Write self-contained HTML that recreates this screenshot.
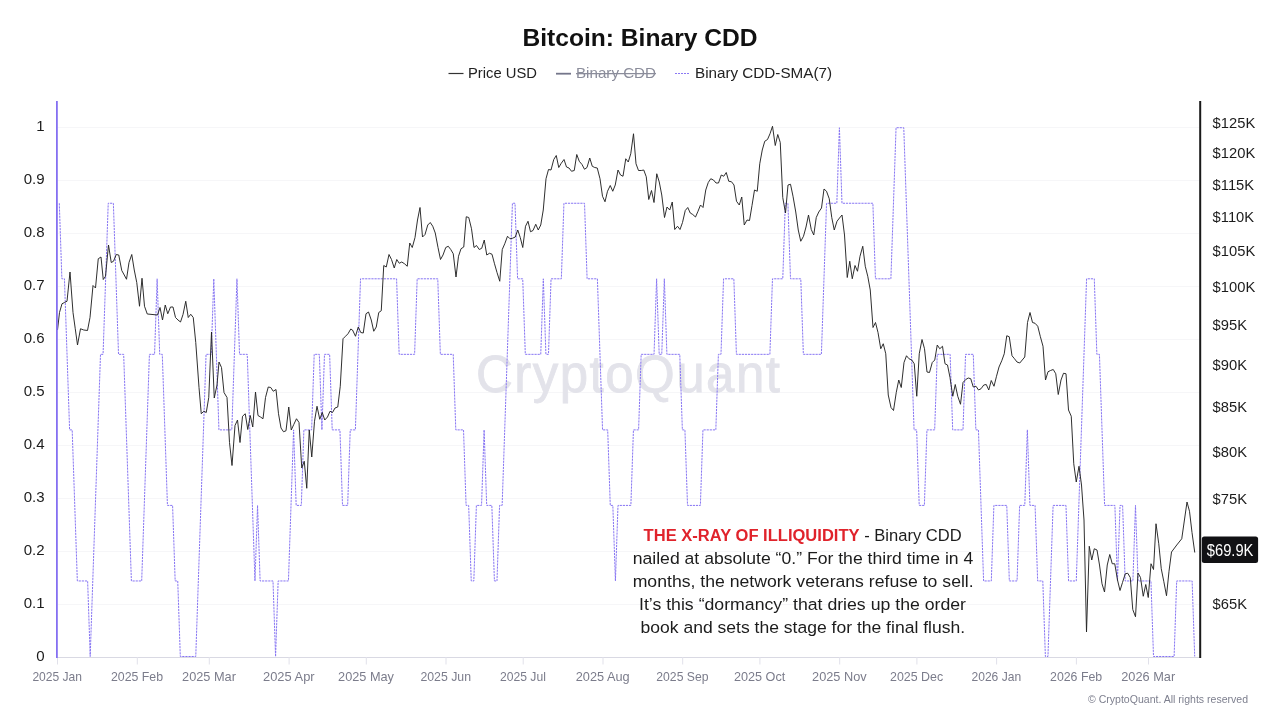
<!DOCTYPE html>
<html><head><meta charset="utf-8"><title>Bitcoin: Binary CDD</title>
<style>
html,body{margin:0;padding:0;background:#fff;}
body{width:1280px;height:720px;overflow:hidden;font-family:"Liberation Sans",sans-serif;}
svg{display:block;will-change:transform;font-family:"Liberation Sans",sans-serif;}
</style></head><body>
<svg width="1280" height="720" viewBox="0 0 1280 720">
<rect width="1280" height="720" fill="#fff"/>
<text x="640" y="46.2" text-anchor="middle" font-size="23" font-weight="bold" fill="#111" textLength="235" lengthAdjust="spacingAndGlyphs">Bitcoin: Binary CDD</text>
<g font-size="14.5" fill="#222">
<line x1="448.5" x2="463.5" y1="73.5" y2="73.5" stroke="#333" stroke-width="1.2"/>
<text x="468" y="78" textLength="69" lengthAdjust="spacingAndGlyphs">Price USD</text>
<line x1="556" x2="571" y1="73.7" y2="73.7" stroke="#74768a" stroke-width="1.8"/>
<text x="576" y="78" fill="#8b8d9b" textLength="80" lengthAdjust="spacingAndGlyphs">Binary CDD</text>
<line x1="576" x2="656" y1="73.7" y2="73.7" stroke="#8b8d9b" stroke-width="1.2"/>
<line x1="675" x2="690" y1="73.5" y2="73.5" stroke="#8b79f4" stroke-width="1" stroke-dasharray="2 1"/>
<text x="695" y="78" textLength="137" lengthAdjust="spacingAndGlyphs">Binary CDD-SMA(7)</text>
</g>
<g stroke="#f6f6f8" stroke-width="1"><line x1="58" x2="1199" y1="604.5" y2="604.5"/><line x1="58" x2="1199" y1="551.5" y2="551.5"/><line x1="58" x2="1199" y1="498.5" y2="498.5"/><line x1="58" x2="1199" y1="445.5" y2="445.5"/><line x1="58" x2="1199" y1="392.5" y2="392.5"/><line x1="58" x2="1199" y1="339.5" y2="339.5"/><line x1="58" x2="1199" y1="286.5" y2="286.5"/><line x1="58" x2="1199" y1="233.5" y2="233.5"/><line x1="58" x2="1199" y1="180.5" y2="180.5"/><line x1="58" x2="1199" y1="127.5" y2="127.5"/></g>
<text x="627.9" y="392.3" text-anchor="middle" font-size="51" fill="#e3e3ea" stroke="#e3e3ea" stroke-width="0.8" textLength="304" lengthAdjust="spacing">CryptoQuant</text>
<line x1="56" x2="1200" y1="657.5" y2="657.5" stroke="#d9d9e3" stroke-width="1"/>
<g stroke="#e1e1ea" stroke-width="1"><line x1="57.5" x2="57.5" y1="657" y2="664.5"/><line x1="137.3" x2="137.3" y1="657" y2="664.5"/><line x1="209.3" x2="209.3" y1="657" y2="664.5"/><line x1="289.1" x2="289.1" y1="657" y2="664.5"/><line x1="366.3" x2="366.3" y1="657" y2="664.5"/><line x1="446.0" x2="446.0" y1="657" y2="664.5"/><line x1="523.2" x2="523.2" y1="657" y2="664.5"/><line x1="603.0" x2="603.0" y1="657" y2="664.5"/><line x1="682.7" x2="682.7" y1="657" y2="664.5"/><line x1="759.9" x2="759.9" y1="657" y2="664.5"/><line x1="839.7" x2="839.7" y1="657" y2="664.5"/><line x1="916.9" x2="916.9" y1="657" y2="664.5"/><line x1="996.6" x2="996.6" y1="657" y2="664.5"/><line x1="1076.4" x2="1076.4" y1="657" y2="664.5"/><line x1="1148.5" x2="1148.5" y1="657" y2="664.5"/></g>
<polyline points="59.30,203.26 61.88,278.80 64.45,278.80 69.60,429.88 72.18,429.88 77.33,580.96 87.63,580.96 90.20,656.50 100.50,354.34 103.07,354.34 108.22,203.26 113.37,203.26 118.52,354.34 123.67,354.34 131.39,580.96 141.69,580.96 149.42,354.34 154.56,354.34 157.14,278.80 159.71,354.34 162.29,354.34 167.44,505.42 172.59,505.42 175.16,580.96 177.74,580.96 180.31,656.50 195.76,656.50 206.06,354.34 211.21,354.34 213.78,278.80 218.93,429.88 231.80,429.88 236.95,278.80 239.53,354.34 247.25,354.34 254.97,580.96 257.55,505.42 260.12,580.96 273.00,580.96 275.57,656.50 278.15,580.96 288.44,580.96 293.59,429.88 296.17,505.42 301.32,505.42 303.89,429.88 311.62,429.88 314.19,354.34 319.34,354.34 321.91,429.88 324.49,354.34 329.64,354.34 332.21,429.88 339.94,429.88 342.51,505.42 347.66,505.42 350.23,429.88 355.38,429.88 360.53,278.80 396.58,278.80 399.15,354.34 414.60,354.34 417.17,278.80 437.77,278.80 440.35,354.34 453.22,354.34 455.79,429.88 463.52,429.88 466.09,505.42 468.67,505.42 471.24,580.96 473.82,580.96 476.39,505.42 481.54,505.42 484.11,429.88 486.69,505.42 491.84,505.42 494.41,580.96 496.99,580.96 499.56,505.42 502.14,505.42 512.43,203.26 515.01,203.26 517.58,278.80 522.73,278.80 525.31,354.34 540.75,354.34 543.33,278.80 545.90,354.34 548.48,354.34 551.05,278.80 561.35,278.80 563.93,203.26 584.52,203.26 587.10,278.80 597.40,278.80 602.55,429.88 607.69,429.88 610.27,505.42 612.84,505.42 615.42,580.96 617.99,505.42 630.87,505.42 633.44,429.88 638.59,429.88 641.16,354.34 654.04,354.34 656.61,278.80 659.19,354.34 661.76,354.34 664.34,278.80 666.91,354.34 679.78,354.34 682.36,429.88 684.93,429.88 687.51,505.42 700.38,505.42 702.95,429.88 715.83,429.88 718.40,354.34 720.98,354.34 723.55,278.80 733.85,278.80 736.42,354.34 769.89,354.34 772.47,278.80 782.77,278.80 785.34,203.26 787.92,203.26 790.49,278.80 800.79,278.80 803.36,354.34 821.39,354.34 826.54,203.26 836.83,203.26 839.41,127.72 841.98,203.26 872.88,203.26 875.45,278.80 890.90,278.80 896.05,127.72 903.77,127.72 914.07,429.88 916.65,429.88 919.22,505.42 924.37,505.42 926.94,429.88 934.67,429.88 937.24,354.34 950.12,354.34 952.69,429.88 962.99,429.88 965.56,354.34 973.29,354.34 975.86,429.88 978.44,429.88 983.59,580.96 991.31,580.96 993.88,505.42 1006.76,505.42 1009.33,580.96 1017.06,580.96 1019.63,505.42 1024.78,505.42 1027.35,429.88 1029.93,505.42 1035.08,505.42 1037.65,580.96 1042.80,580.96 1045.38,656.50 1047.95,656.50 1053.10,505.42 1065.97,505.42 1068.55,580.96 1076.27,580.96 1086.57,278.80 1094.29,278.80 1096.87,354.34 1099.44,354.34 1104.59,505.42 1114.89,505.42 1117.47,580.96 1120.04,505.42 1122.61,505.42 1125.19,580.96 1132.91,580.96 1135.49,505.42 1138.06,580.96 1150.94,580.96 1153.51,656.50 1174.11,656.50 1176.68,580.96 1192.13,580.96 1194.70,656.50" fill="none" stroke="#8775f3" stroke-width="1" stroke-dasharray="2.2 0.9" stroke-linejoin="round"/>
<polyline points="57.50,330.00 59.50,312.50 62.00,303.75 64.50,302.50 67.00,301.25 70.00,272.00 73.00,312.50 75.25,328.75 77.50,345.00 80.50,328.75 83.75,330.00 87.50,330.50 90.00,317.50 93.00,285.50 95.50,288.00 98.25,258.75 101.00,257.00 103.25,279.50 105.50,276.25 108.50,245.00 111.25,262.50 113.50,261.25 116.25,254.50 118.75,255.00 121.75,270.50 124.25,275.00 126.50,279.25 129.00,262.50 131.75,254.50 134.25,270.00 136.75,282.50 139.50,306.25 142.00,278.25 144.50,306.25 147.25,314.00 150.00,314.25 157.50,315.00 160.00,307.50 162.50,320.00 165.25,305.00 167.75,313.75 170.50,307.00 173.00,307.00 175.50,317.50 178.00,320.00 180.50,322.00 183.00,314.50 185.75,301.25 188.25,317.50 190.75,314.25 193.25,317.50 195.75,342.50 199.00,387.50 201.25,413.75 203.75,411.25 206.25,412.50 208.75,397.50 211.50,332.00 214.25,398.00 217.00,385.00 219.00,362.00 221.50,367.50 224.00,392.50 227.00,397.50 229.50,442.50 232.00,465.50 235.00,425.50 237.50,420.00 240.00,442.50 242.50,416.25 245.25,413.75 247.75,429.50 250.25,415.50 252.75,427.00 255.50,392.00 258.00,415.50 260.50,417.00 263.00,418.75 265.50,397.50 268.25,387.00 270.75,387.50 273.25,391.25 276.00,389.50 278.50,413.75 281.00,428.00 283.50,431.75 286.00,430.75 288.75,407.00 291.25,430.00 293.75,424.50 296.50,418.75 299.00,422.50 301.75,468.00 304.25,461.25 306.75,488.25 309.25,430.00 311.75,457.00 314.50,421.25 317.00,406.25 319.75,419.25 322.25,412.50 324.75,420.00 327.50,417.00 330.00,411.25 332.50,412.50 335.00,408.00 337.75,407.00 340.25,386.25 343.00,338.75 345.50,336.25 348.00,333.75 350.75,329.00 352.50,330.00 355.50,336.25 358.25,327.00 360.75,332.50 363.25,333.00 366.00,313.75 368.50,312.00 371.25,320.00 373.75,331.25 376.25,327.00 378.75,312.50 381.25,310.75 383.75,265.50 386.25,267.00 389.00,254.50 391.50,259.50 394.25,268.00 396.75,259.50 399.25,263.25 401.75,262.00 404.50,263.75 407.25,266.25 409.75,243.00 412.25,247.50 415.00,237.50 417.50,220.00 420.00,207.50 422.50,237.00 425.00,234.50 427.75,225.00 430.25,222.50 432.75,226.25 435.25,233.00 438.00,247.50 440.50,259.50 443.00,255.00 445.75,247.50 448.25,246.25 450.75,249.50 453.25,253.75 456.00,277.00 458.50,256.25 461.00,248.75 463.75,247.00 466.25,216.75 468.75,217.50 471.50,228.75 474.00,247.50 476.50,245.50 479.25,249.50 481.75,248.25 484.25,240.00 486.75,255.00 489.50,253.25 492.00,254.25 494.50,263.75 497.00,272.50 499.75,281.25 502.25,249.50 504.75,243.75 507.50,236.25 510.00,238.75 512.50,238.25 515.25,237.00 517.75,230.00 520.25,237.50 522.75,247.50 525.50,226.25 528.00,221.25 530.50,231.75 533.00,230.50 535.75,224.25 538.25,230.00 540.75,225.00 543.25,210.00 546.00,178.75 548.50,169.50 551.00,170.00 553.75,159.50 556.25,155.50 558.75,167.50 561.25,163.25 564.00,159.50 566.50,167.00 569.00,168.00 571.50,171.25 574.25,170.50 576.75,154.50 579.25,161.25 582.00,164.50 584.50,169.25 587.00,167.50 589.75,158.00 592.25,166.25 594.75,167.50 597.25,168.00 600.00,178.75 602.50,196.25 605.00,201.75 607.50,191.25 610.25,185.50 612.75,191.25 615.25,185.00 618.00,170.00 620.50,175.00 623.00,176.25 625.75,158.75 628.25,162.00 630.75,153.75 633.50,133.75 636.00,163.75 638.50,170.50 641.25,170.50 643.75,170.00 646.25,176.75 648.75,199.50 651.50,190.50 654.00,202.50 656.75,173.75 659.25,182.00 661.75,195.00 664.50,217.50 667.00,207.00 669.75,210.00 672.25,202.00 674.75,229.50 677.50,226.25 680.00,229.50 682.50,222.50 685.25,210.50 687.75,207.50 690.25,213.00 692.75,214.50 695.50,217.00 698.00,211.25 700.50,205.00 703.00,207.50 705.75,190.00 708.25,182.50 710.75,178.75 713.50,180.00 716.00,183.00 718.50,183.00 721.25,175.00 723.75,176.25 726.25,172.50 728.75,181.25 731.50,181.75 734.00,185.00 736.50,201.25 739.25,205.00 741.75,197.00 744.25,225.00 747.00,220.00 749.50,220.50 752.00,205.50 754.50,190.00 757.25,191.25 759.75,163.75 762.25,150.00 764.75,141.25 767.50,139.50 770.00,133.75 772.50,126.25 775.25,145.50 777.75,134.50 780.25,142.50 782.75,197.50 785.50,213.00 788.00,185.00 790.50,184.25 793.00,196.25 795.75,212.00 798.25,230.00 800.75,241.25 803.50,236.25 806.00,227.00 808.50,215.00 811.25,229.50 813.75,235.00 816.25,217.50 818.75,212.00 821.50,208.00 824.00,189.00 826.50,191.25 829.25,198.75 831.75,217.50 834.25,230.00 837.00,221.25 839.50,218.00 842.00,215.00 844.50,235.00 847.25,277.50 849.75,261.25 852.25,278.75 855.00,265.50 857.50,271.25 860.00,256.25 862.75,246.25 865.25,266.25 867.75,276.25 870.25,290.00 873.00,327.50 875.50,322.50 878.00,332.50 880.75,348.75 883.25,343.75 885.75,353.75 888.25,395.00 891.00,407.50 893.50,410.50 896.25,392.50 898.75,380.00 901.25,387.50 904.00,362.50 906.50,355.75 909.00,358.75 911.75,360.00 914.25,363.75 916.75,396.25 919.25,353.75 922.00,339.50 924.50,348.75 927.00,372.00 929.50,372.50 932.25,362.50 934.75,360.00 937.25,345.00 939.75,348.75 942.50,346.25 945.00,363.75 947.50,365.00 950.00,377.50 952.75,396.25 955.25,384.50 957.75,396.25 960.50,404.25 963.00,382.50 965.75,379.50 968.25,378.00 970.75,378.75 973.25,387.00 976.00,386.25 978.50,390.00 981.00,388.75 983.75,385.00 986.25,384.50 988.75,390.00 991.25,380.50 994.00,386.25 996.50,376.25 999.00,367.00 1001.75,360.75 1004.25,353.75 1006.75,335.75 1009.25,336.75 1012.00,355.75 1014.50,358.75 1017.00,362.00 1019.75,363.00 1022.25,360.00 1024.75,357.00 1027.50,322.50 1030.00,312.50 1032.50,322.50 1035.00,323.25 1037.75,326.25 1040.25,336.25 1043.00,346.25 1045.50,380.00 1048.00,371.75 1050.50,370.50 1053.25,369.50 1055.75,373.75 1058.25,394.50 1061.00,380.00 1063.50,373.25 1066.00,373.75 1068.50,410.00 1071.25,416.25 1073.75,463.75 1076.25,482.00 1079.00,466.25 1081.50,485.00 1084.00,520.00 1086.50,632.00 1089.25,546.25 1091.75,560.00 1094.25,548.75 1097.00,550.00 1099.50,565.00 1102.00,583.75 1104.50,592.00 1107.25,565.00 1109.75,554.50 1112.25,563.75 1114.75,563.75 1117.50,580.00 1120.00,590.50 1122.50,582.50 1125.25,573.75 1127.75,573.25 1130.25,577.50 1132.75,609.50 1135.50,616.75 1138.00,573.00 1140.50,577.50 1143.25,596.25 1145.75,584.50 1148.25,597.50 1151.00,563.75 1153.50,569.50 1156.00,523.75 1158.75,543.75 1161.25,568.75 1163.75,581.25 1166.50,595.75 1169.00,571.25 1171.50,552.00 1176.75,545.00 1181.75,538.75 1187.00,502.00 1189.50,511.25 1192.00,532.50 1194.75,552.50" fill="none" stroke="#242424" stroke-width="0.95" stroke-linejoin="round"/>
<rect x="56" y="101" width="1.8" height="557" fill="#8570f2"/>
<rect x="1199.2" y="101" width="2" height="557" fill="#1a1a1a"/>
<g font-size="15.2" fill="#1c1c1c"><text transform="translate(44.6,661.2) scale(0.99,1)" text-anchor="end">0</text><text transform="translate(44.6,608.2) scale(0.99,1)" text-anchor="end">0.1</text><text transform="translate(44.6,555.2) scale(0.99,1)" text-anchor="end">0.2</text><text transform="translate(44.6,502.2) scale(0.99,1)" text-anchor="end">0.3</text><text transform="translate(44.6,449.2) scale(0.99,1)" text-anchor="end">0.4</text><text transform="translate(44.6,396.2) scale(0.99,1)" text-anchor="end">0.5</text><text transform="translate(44.6,343.2) scale(0.99,1)" text-anchor="end">0.6</text><text transform="translate(44.6,290.2) scale(0.99,1)" text-anchor="end">0.7</text><text transform="translate(44.6,237.2) scale(0.99,1)" text-anchor="end">0.8</text><text transform="translate(44.6,184.2) scale(0.99,1)" text-anchor="end">0.9</text><text transform="translate(44.6,131.2) scale(0.99,1)" text-anchor="end">1</text><text transform="translate(1212.6,128.2) scale(0.97,1)">$125K</text><text transform="translate(1212.6,158.2) scale(0.97,1)">$120K</text><text transform="translate(1212.6,189.5) scale(0.97,1)">$115K</text><text transform="translate(1212.6,222.2) scale(0.97,1)">$110K</text><text transform="translate(1212.6,256.4) scale(0.97,1)">$105K</text><text transform="translate(1212.6,292.3) scale(0.97,1)">$100K</text><text transform="translate(1212.6,330.1) scale(0.97,1)">$95K</text><text transform="translate(1212.6,369.8) scale(0.97,1)">$90K</text><text transform="translate(1212.6,411.9) scale(0.97,1)">$85K</text><text transform="translate(1212.6,456.5) scale(0.97,1)">$80K</text><text transform="translate(1212.6,503.9) scale(0.97,1)">$75K</text><text transform="translate(1212.6,609.2) scale(0.97,1)">$65K</text></g>
<g font-size="12.7" fill="#7b7c8b"><text x="57.2" y="681" text-anchor="middle" textLength="49.65" lengthAdjust="spacingAndGlyphs">2025 Jan</text><text x="137.0" y="681" text-anchor="middle" textLength="52.15" lengthAdjust="spacingAndGlyphs">2025 Feb</text><text x="209.0" y="681" text-anchor="middle" textLength="53.9" lengthAdjust="spacingAndGlyphs">2025 Mar</text><text x="288.8" y="681" text-anchor="middle" textLength="51.65" lengthAdjust="spacingAndGlyphs">2025 Apr</text><text x="366.0" y="681" text-anchor="middle" textLength="55.9" lengthAdjust="spacingAndGlyphs">2025 May</text><text x="445.7" y="681" text-anchor="middle" textLength="50.65" lengthAdjust="spacingAndGlyphs">2025 Jun</text><text x="522.9" y="681" text-anchor="middle" textLength="45.9" lengthAdjust="spacingAndGlyphs">2025 Jul</text><text x="602.7" y="681" text-anchor="middle" textLength="53.9" lengthAdjust="spacingAndGlyphs">2025 Aug</text><text x="682.4" y="681" text-anchor="middle" textLength="52.15" lengthAdjust="spacingAndGlyphs">2025 Sep</text><text x="759.6" y="681" text-anchor="middle" textLength="51.4" lengthAdjust="spacingAndGlyphs">2025 Oct</text><text x="839.4" y="681" text-anchor="middle" textLength="54.65" lengthAdjust="spacingAndGlyphs">2025 Nov</text><text x="916.6" y="681" text-anchor="middle" textLength="53.15" lengthAdjust="spacingAndGlyphs">2025 Dec</text><text x="996.3" y="681" text-anchor="middle" textLength="49.65" lengthAdjust="spacingAndGlyphs">2026 Jan</text><text x="1076.1" y="681" text-anchor="middle" textLength="52.15" lengthAdjust="spacingAndGlyphs">2026 Feb</text><text x="1148.2" y="681" text-anchor="middle" textLength="53.9" lengthAdjust="spacingAndGlyphs">2026 Mar</text></g>
<rect x="1201.8" y="536.6" width="56.3" height="26.4" rx="2.5" fill="#111114"/>
<text x="1230.1" y="556.4" text-anchor="middle" font-size="16.3" fill="#fff" textLength="46.6" lengthAdjust="spacingAndGlyphs">$69.9K</text>
<g font-size="16.8" fill="#1c1c1c" text-anchor="middle">
<text x="802.6" y="541" textLength="318" lengthAdjust="spacingAndGlyphs"><tspan font-weight="bold" fill="#e0232b">THE X-RAY OF ILLIQUIDITY</tspan> - Binary CDD</text>
<text x="803" y="564" textLength="340.6" lengthAdjust="spacingAndGlyphs">nailed at absolute “0.” For the third time in 4</text>
<text x="803.2" y="587" textLength="341" lengthAdjust="spacingAndGlyphs">months, the network veterans refuse to sell.</text>
<text x="802.5" y="610" textLength="327" lengthAdjust="spacingAndGlyphs">It’s this “dormancy” that dries up the order</text>
<text x="802.8" y="633" textLength="324.5" lengthAdjust="spacingAndGlyphs">book and sets the stage for the final flush.</text>
</g>
<text x="1248" y="703" text-anchor="end" font-size="11.4" fill="#7d7f8e" textLength="160" lengthAdjust="spacingAndGlyphs">© CryptoQuant. All rights reserved</text>
</svg>
</body></html>
